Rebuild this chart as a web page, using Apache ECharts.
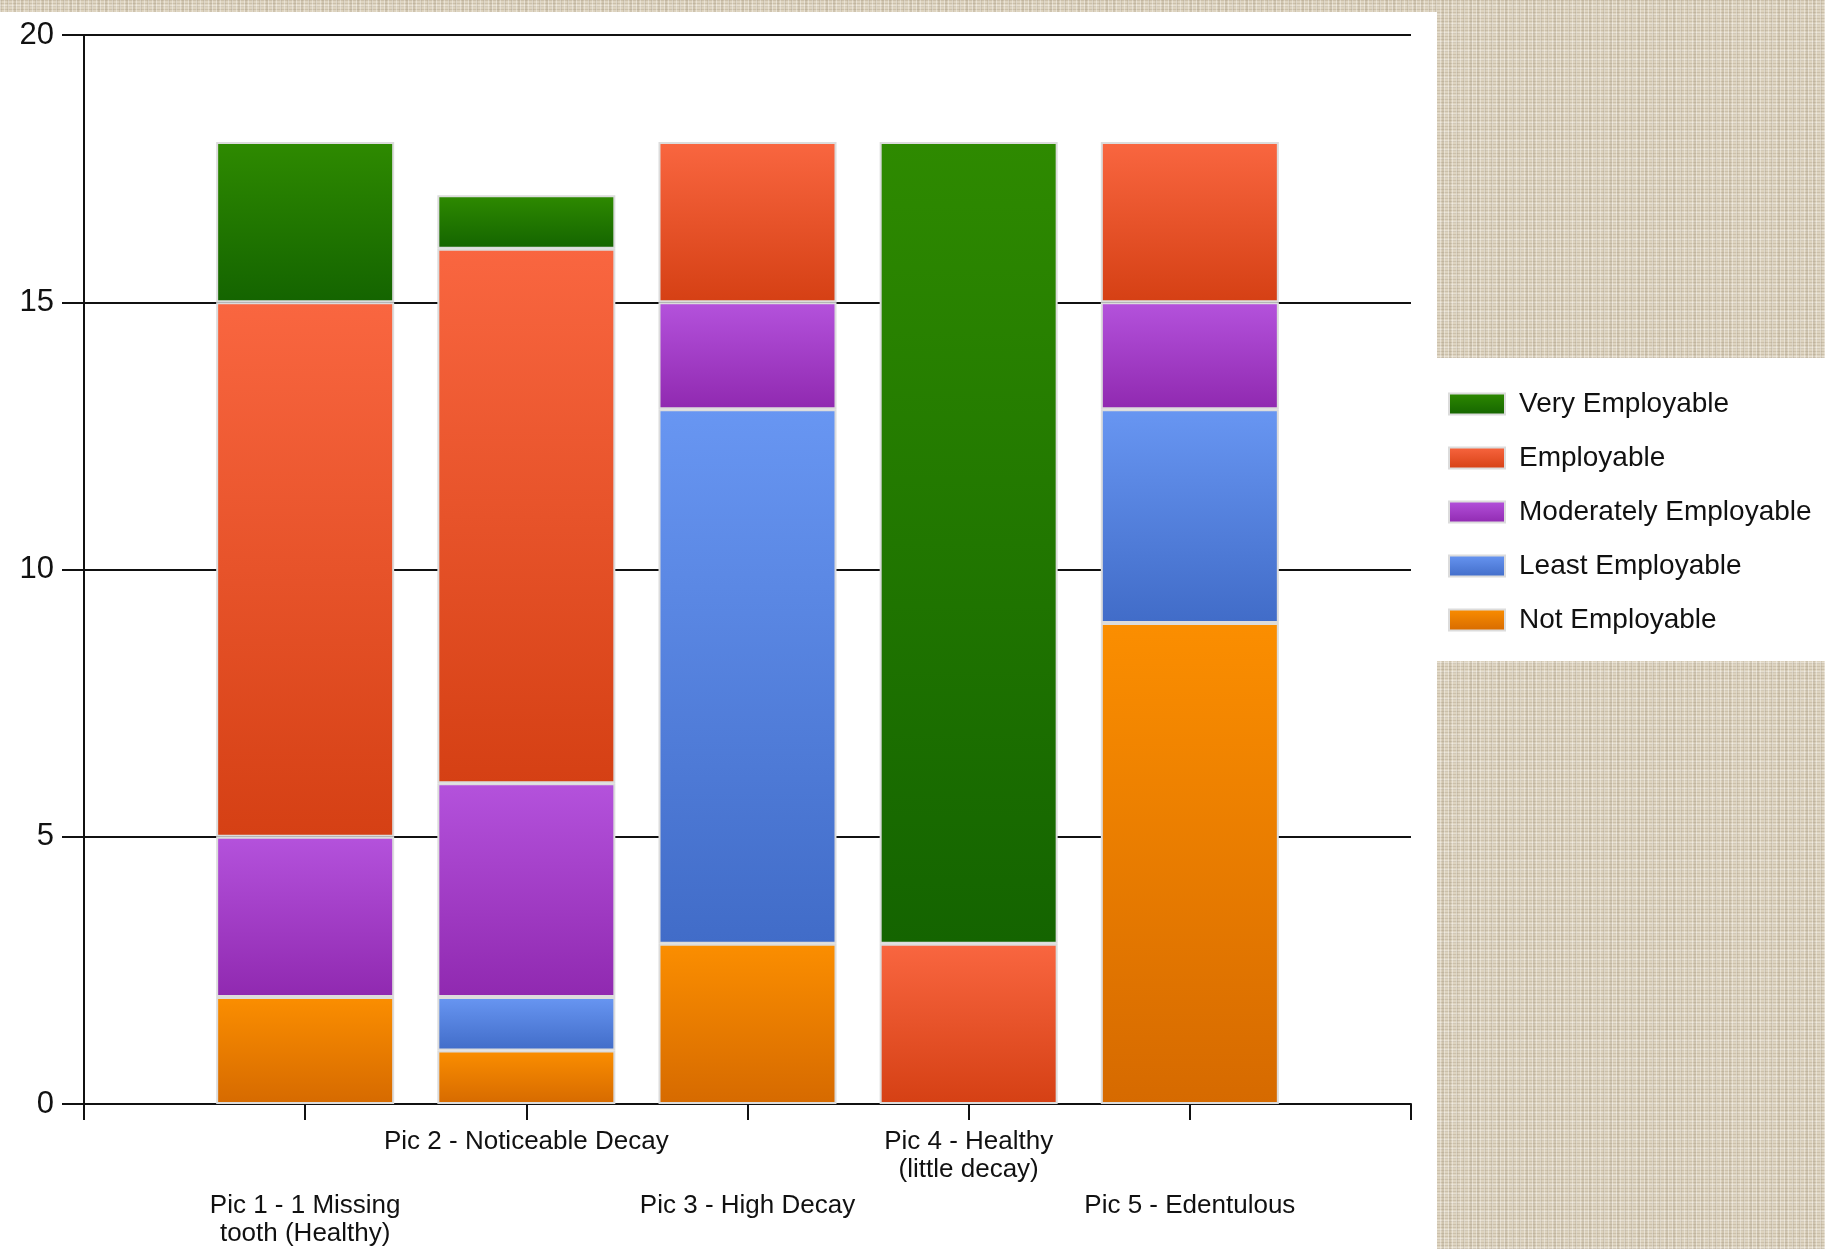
<!DOCTYPE html>
<html>
<head>
<meta charset="utf-8">
<script src="https://cdn.jsdelivr.net/npm/echarts@6/dist/echarts.min.js"></script>
<style>
  html, body { margin: 0; padding: 0; width: 1825px; height: 1249px; overflow: hidden; }
  body {
    background-color: #ddd3bf;
    background-image:
      repeating-linear-gradient(90deg, rgba(255,255,255,0.35) 0px, rgba(255,255,255,0.35) 1px, transparent 1px, transparent 4px),
      repeating-linear-gradient(0deg, rgba(150,135,110,0.25) 0px, rgba(150,135,110,0.25) 1px, transparent 1px, transparent 3px),
      repeating-linear-gradient(90deg, rgba(140,125,100,0.18) 0px, rgba(140,125,100,0.18) 2px, transparent 2px, transparent 7px),
      repeating-linear-gradient(0deg, rgba(255,255,255,0.25) 0px, rgba(255,255,255,0.25) 2px, transparent 2px, transparent 9px);
  }
  #panel { position: absolute; left: 0; top: 12px; width: 1437px; height: 1237px; background: #ffffff; }
  #legendbox { position: absolute; left: 1437px; top: 358px; width: 388px; height: 303px; background: #ffffff; }
  #chart { position: absolute; left: 0; top: 0; width: 1825px; height: 1249px; }
</style>
</head>
<body>
<div id="panel"></div>
<div id="legendbox"></div>
<div id="chart"></div>
<script>
// ---- data ----
const categories = [
  'Pic 1 - 1 Missing\ntooth (Healthy)',
  'Pic 2 - Noticeable Decay',
  'Pic 3 - High Decay',
  'Pic 4 - Healthy\n(little decay)',
  'Pic 5 - Edentulous'
];
const seriesNames = ['Very Employable', 'Employable', 'Moderately Employable', 'Least Employable', 'Not Employable'];
const notEmployable        = [2, 1, 3, 0, 9];
const leastEmployable      = [0, 1, 10, 0, 4];
const moderatelyEmployable = [3, 4, 2, 0, 2];
const employable           = [10, 10, 3, 3, 3];
const veryEmployable       = [3, 1, 0, 15, 0];
const yTicks = [0, 5, 10, 15, 20];

// ---- styling ----
const gradients = {
  'Very Employable':       ['#2e8a00', '#146400'],
  'Employable':            ['#f96640', '#d54014'],
  'Moderately Employable': ['#b452dc', '#9029b0'],
  'Least Employable':      ['#6896f2', '#416cc8'],
  'Not Employable':        ['#fb8e00', '#d66a00']
};
const FONT = '"Liberation Sans", Arial, sans-serif';

// pad categories with empty slots at both ends (axis runs 0..6)
const xData = [''].concat(categories, ['']);
function pad(arr) {
  return [null].concat(arr.map(v => (v === 0 ? null : v)), [null]);
}

// stack order bottom -> top
const stackOrder = [
  ['Not Employable', notEmployable],
  ['Least Employable', leastEmployable],
  ['Moderately Employable', moderatelyEmployable],
  ['Employable', employable],
  ['Very Employable', veryEmployable]
];

const series = stackOrder.map(([name, vals]) => ({
  name: name,
  type: 'bar',
  stack: 'total',
  barWidth: 178,
  data: pad(vals),
  itemStyle: {
    color: new echarts.graphic.LinearGradient(0, 0, 0, 1, [
      { offset: 0, color: gradients[name][0] },
      { offset: 1, color: gradients[name][1] }
    ]),
    borderColor: '#dcdcdc',
    borderWidth: 2
  },
  emphasis: { disabled: true }
}));

const chart = echarts.init(document.getElementById('chart'), null, { renderer: 'canvas' });

chart.setOption({
  backgroundColor: 'transparent',
  animation: false,
  grid: { left: 84, right: 414, top: 35, bottom: 145, containLabel: false },
  legend: {
    data: seriesNames,
    orient: 'vertical',
    left: 1443,
    top: 384,
    itemWidth: 56,
    itemHeight: 21,
    itemGap: 24,
    icon: 'rect',
    textStyle: { fontFamily: FONT, fontSize: 28, color: '#111', lineHeight: 30, padding: [0, 0, 0, 9] },
    selectedMode: false
  },
  xAxis: {
    type: 'category',
    data: xData,
    boundaryGap: false,
    axisLine: { show: true, lineStyle: { color: '#111', width: 2 } },
    axisTick: { show: true, length: 16, lineStyle: { color: '#111', width: 2 } },
    axisLabel: {
      interval: 0,
      margin: 24,
      fontFamily: FONT,
      fontSize: 26,
      color: '#111',
      lineHeight: 28,
      formatter: function (val, idx) {
        if (!val) return '';
        const lines = val.split('\n');
        const body = lines.map(l => '{t|' + l + '}').join('\n');
        // 1st, 3rd, 5th categories sit on the lower row
        return idx % 2 === 1 ? '{sp| }\n' + body : body;
      },
      rich: {
        sp: { lineHeight: 64, fontSize: 10 },
        t: { fontFamily: FONT, fontSize: 26, color: '#111', lineHeight: 28 }
      }
    },
    splitLine: { show: false }
  },
  yAxis: {
    type: 'value',
    min: 0,
    max: 20,
    interval: 5,
    axisLine: { show: true, lineStyle: { color: '#111', width: 2 } },
    axisTick: { show: true, length: 22, lineStyle: { color: '#111', width: 2 } },
    axisLabel: {
      margin: 30,
      fontFamily: FONT,
      fontSize: 31,
      color: '#111',
      formatter: function (v) { return yTicks.indexOf(v) >= 0 ? String(v) : ''; }
    },
    splitLine: { show: true, lineStyle: { color: '#111', width: 2 } }
  },
  series: series
});
</script>
</body>
</html>
